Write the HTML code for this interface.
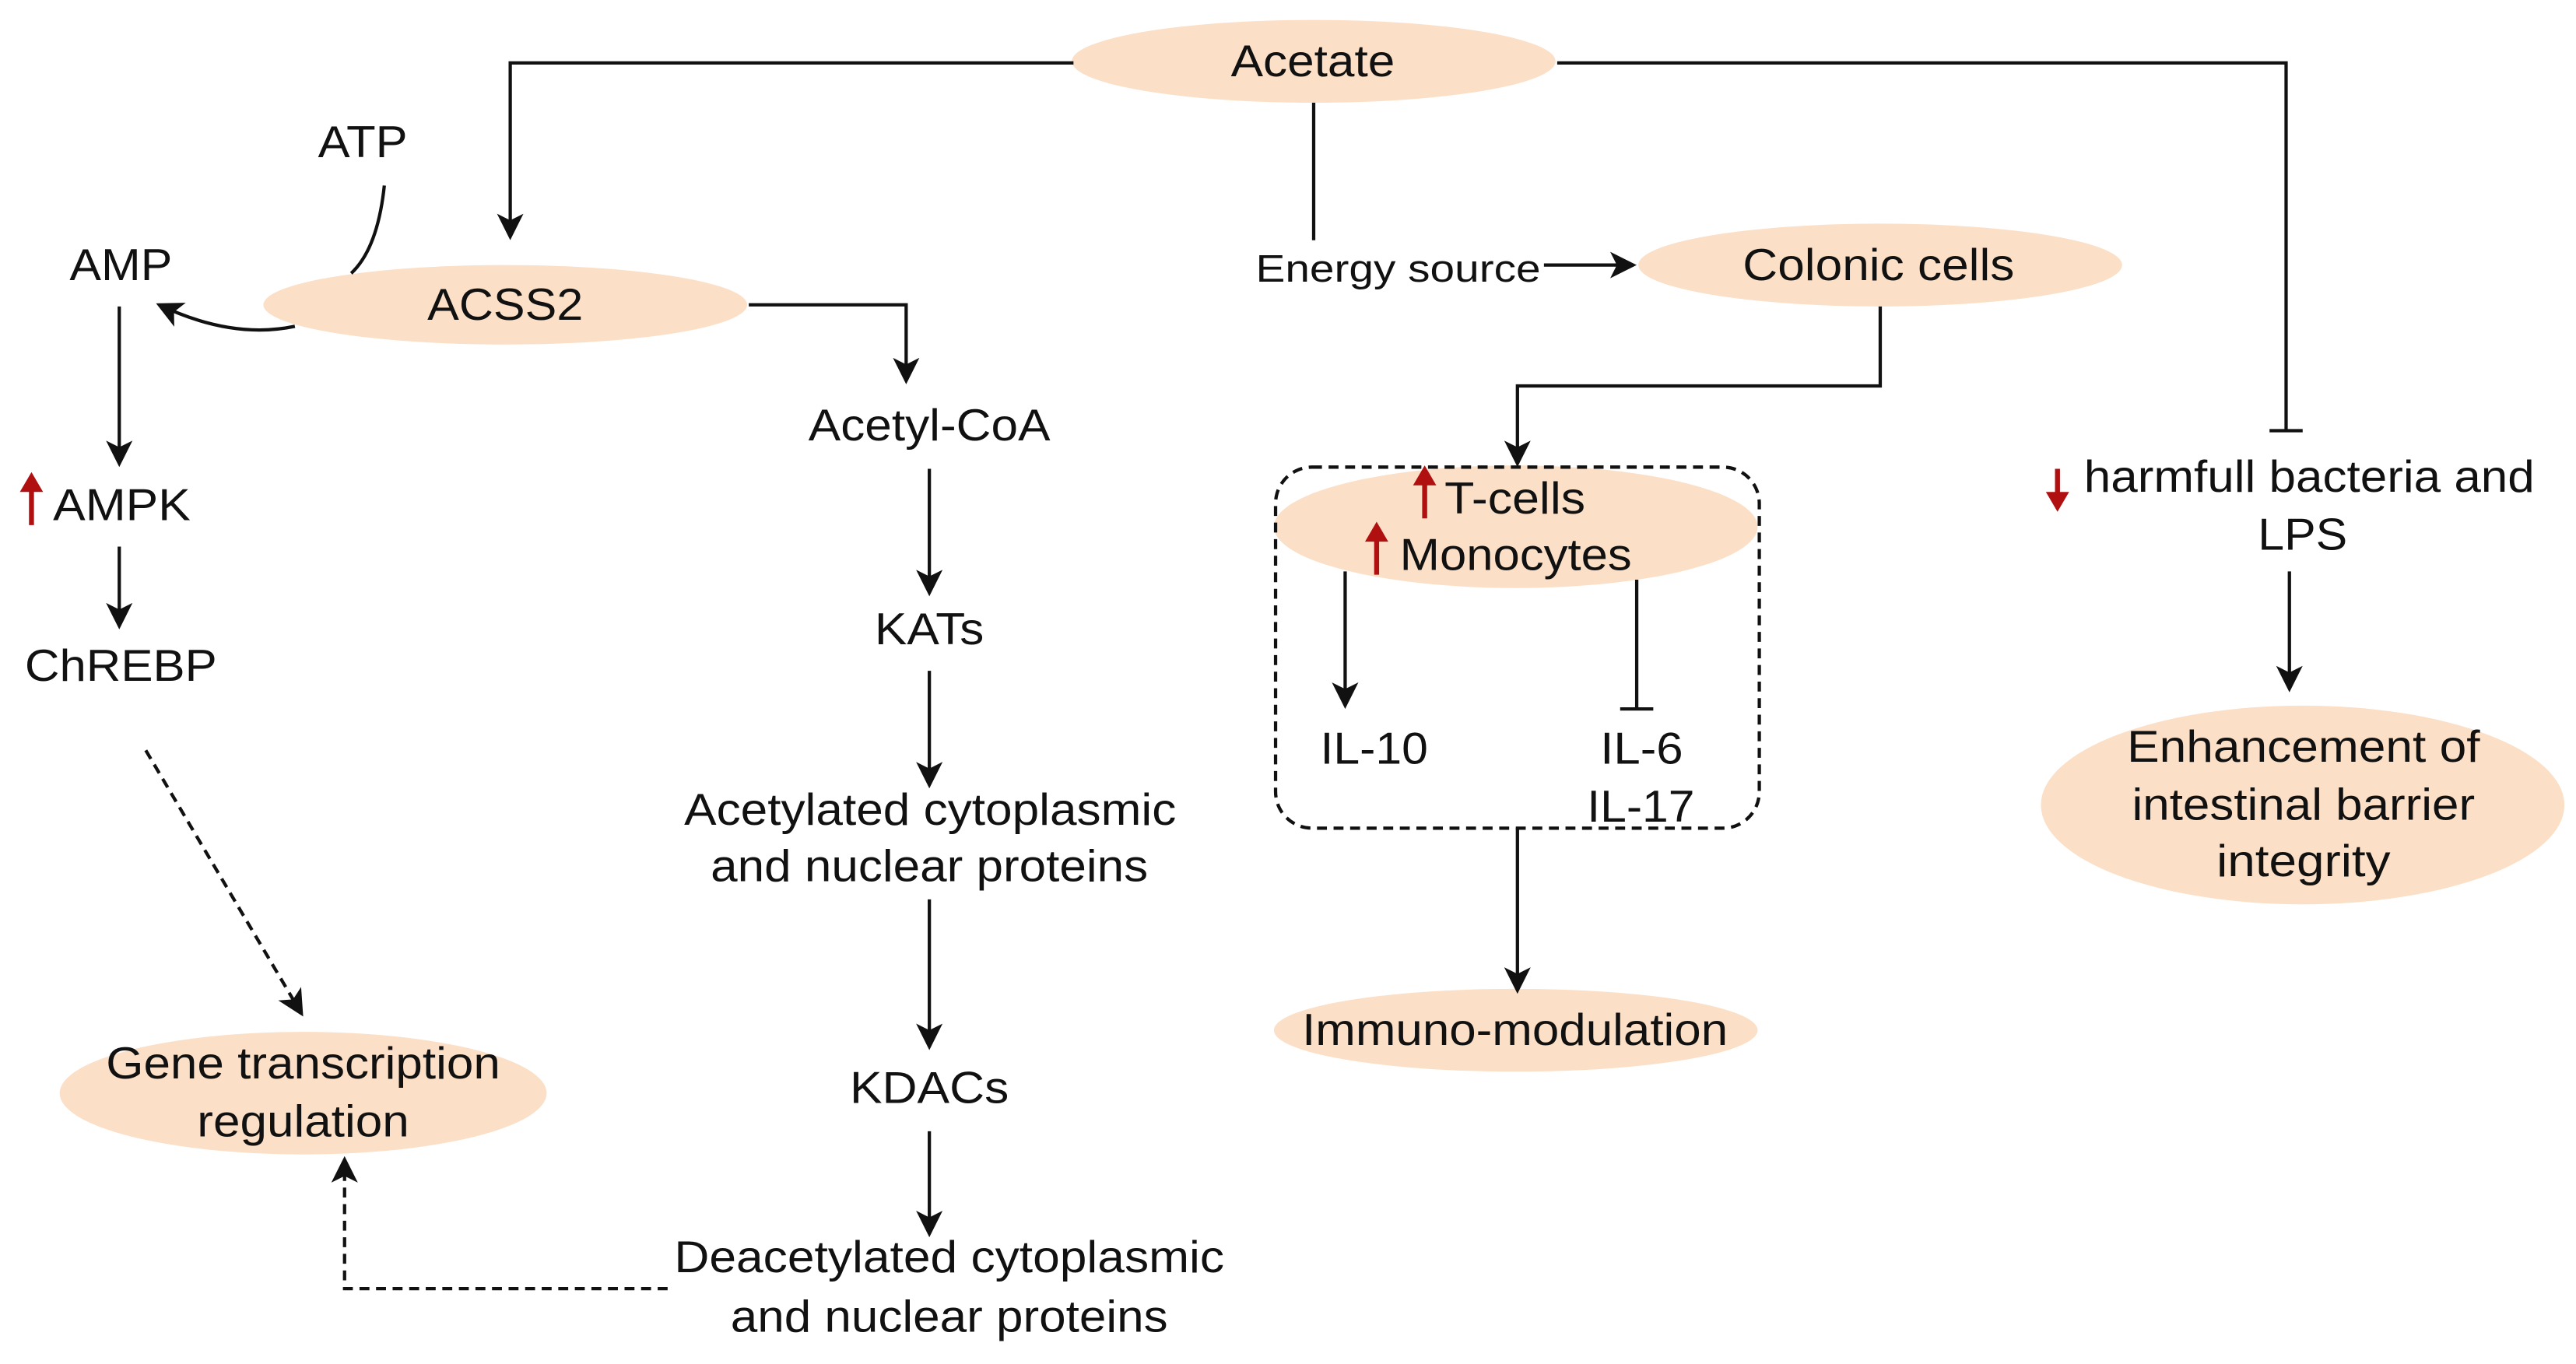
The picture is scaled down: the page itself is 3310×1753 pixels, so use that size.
<!DOCTYPE html>
<html><head><meta charset="utf-8"><style>
html,body{margin:0;padding:0;background:#fff;}
svg{display:block;}
text{font-family:"Liberation Sans",Arial,sans-serif;fill:#111;}
</style></head><body>
<svg width="3310" height="1753" viewBox="0 0 1555 823.5" xmlns="http://www.w3.org/2000/svg">
<defs>
<marker id="ab" markerWidth="16" markerHeight="16" refX="14" refY="8" orient="auto" markerUnits="userSpaceOnUse" viewBox="0 0 16 16"><path d="M0,0 L16,8 L0,16 L4,8 Z" fill="#111"/></marker>
</defs>
<g fill="#fbdfc6" stroke="none">
<ellipse cx="793" cy="37" rx="146" ry="25"/>
<ellipse cx="305" cy="184" rx="146" ry="24"/>
<ellipse cx="1135" cy="160" rx="146" ry="25"/>
<ellipse cx="915" cy="318" rx="146" ry="37"/>
<ellipse cx="915" cy="622" rx="146" ry="25"/>
<ellipse cx="1390" cy="486" rx="158" ry="60"/>
<ellipse cx="183" cy="660" rx="147" ry="37"/>
</g>
<g stroke="#111" stroke-width="2" fill="none">
<path d="M648,38 H308 V143" marker-end="url(#ab)"/>
<path d="M940,38 H1380 V260 M1370,260 H1390"/>
<path d="M793,62 V145"/>
<path d="M932,160 H986" marker-end="url(#ab)"/>
<path d="M1135,185 V233 H916 V280" marker-end="url(#ab)"/>
<rect x="770" y="282" width="292" height="218" rx="22" stroke-dasharray="6,4"/>
<path d="M812,345 V426" marker-end="url(#ab)"/>
<path d="M988,350 V428 M978,428 H998"/>
<path d="M916,500 V598" marker-end="url(#ab)"/>
<path d="M1382,345 V416" marker-end="url(#ab)"/>
<path d="M232,112 Q228,150 212,165"/>
<path d="M178,197 Q140,205 96,184" marker-end="url(#ab)"/>
<path d="M72,185 V280" marker-end="url(#ab)"/>
<path d="M72,330 V378" marker-end="url(#ab)"/>
<path d="M88,453 L182,612" stroke-dasharray="6,4" marker-end="url(#ab)"/>
<path d="M452,184 H547 V230" marker-end="url(#ab)"/>
<path d="M561,283 V358" marker-end="url(#ab)"/>
<path d="M561,405 V474" marker-end="url(#ab)"/>
<path d="M561,543 V632" marker-end="url(#ab)"/>
<path d="M561,683 V745" marker-end="url(#ab)"/>
<path d="M403,778 H208 V700" stroke-dasharray="6,4" marker-end="url(#ab)"/>
</g>
<g fill="#b01010" stroke="#b01010">
<path d="M860,313 V290" stroke-width="3"/><path d="M853,293 L860,281 L867,293 Z" stroke="none"/>
<path d="M831,347 V324" stroke-width="3"/><path d="M824,327 L831,315 L838,327 Z" stroke="none"/>
<path d="M19,317 V294" stroke-width="3"/><path d="M12,297 L19,285 L26,297 Z" stroke="none"/>
<path d="M1242,283 V300" stroke-width="3"/><path d="M1235,297 L1242,309 L1249,297 Z" stroke="none"/>
</g>
<g font-size="27" lengthAdjust="spacingAndGlyphs">
<text x="743" y="46" textLength="99" lengthAdjust="spacingAndGlyphs">Acetate</text>
<text x="258" y="193" textLength="94" lengthAdjust="spacingAndGlyphs">ACSS2</text>
<text x="1052" y="169" textLength="164" lengthAdjust="spacingAndGlyphs">Colonic cells</text>
<text x="786" y="631" textLength="257" lengthAdjust="spacingAndGlyphs">Immuno-modulation</text>
<text x="192" y="95" textLength="54" lengthAdjust="spacingAndGlyphs">ATP</text>
<text x="42" y="169" textLength="62" lengthAdjust="spacingAndGlyphs">AMP</text>
<text x="32" y="314" textLength="83" lengthAdjust="spacingAndGlyphs">AMPK</text>
<text x="15" y="411" textLength="116" lengthAdjust="spacingAndGlyphs">ChREBP</text>
<text x="64" y="651" textLength="238" lengthAdjust="spacingAndGlyphs">Gene transcription</text>
<text x="119" y="686" textLength="128" lengthAdjust="spacingAndGlyphs">regulation</text>
<text x="488" y="266" textLength="146" lengthAdjust="spacingAndGlyphs">Acetyl-CoA</text>
<text x="528" y="389" textLength="66" lengthAdjust="spacingAndGlyphs">KATs</text>
<text x="413" y="498" textLength="297" lengthAdjust="spacingAndGlyphs">Acetylated cytoplasmic</text>
<text x="429" y="532" textLength="264" lengthAdjust="spacingAndGlyphs">and nuclear proteins</text>
<text x="513" y="666" textLength="96" lengthAdjust="spacingAndGlyphs">KDACs</text>
<text x="407" y="768" textLength="332" lengthAdjust="spacingAndGlyphs">Deacetylated cytoplasmic</text>
<text x="441" y="804" textLength="264" lengthAdjust="spacingAndGlyphs">and nuclear proteins</text>
<text x="797" y="461" textLength="65" lengthAdjust="spacingAndGlyphs">IL-10</text>
<text x="966" y="461" textLength="50" lengthAdjust="spacingAndGlyphs">IL-6</text>
<text x="958" y="496" textLength="65" lengthAdjust="spacingAndGlyphs">IL-17</text>
<text x="872" y="310" textLength="85" lengthAdjust="spacingAndGlyphs">T-cells</text>
<text x="845" y="344" textLength="140" lengthAdjust="spacingAndGlyphs">Monocytes</text>
<text x="1258" y="297" textLength="272" lengthAdjust="spacingAndGlyphs">harmfull bacteria and</text>
<text x="1363" y="332" textLength="54" lengthAdjust="spacingAndGlyphs">LPS</text>
<text x="1284" y="460" textLength="213" lengthAdjust="spacingAndGlyphs">Enhancement of</text>
<text x="1287" y="495" textLength="207" lengthAdjust="spacingAndGlyphs">intestinal barrier</text>
<text x="1338" y="529" textLength="105" lengthAdjust="spacingAndGlyphs">integrity</text>
</g>
<text x="758" y="170" font-size="23" textLength="172" lengthAdjust="spacingAndGlyphs">Energy source</text>
</svg>
</body></html>
